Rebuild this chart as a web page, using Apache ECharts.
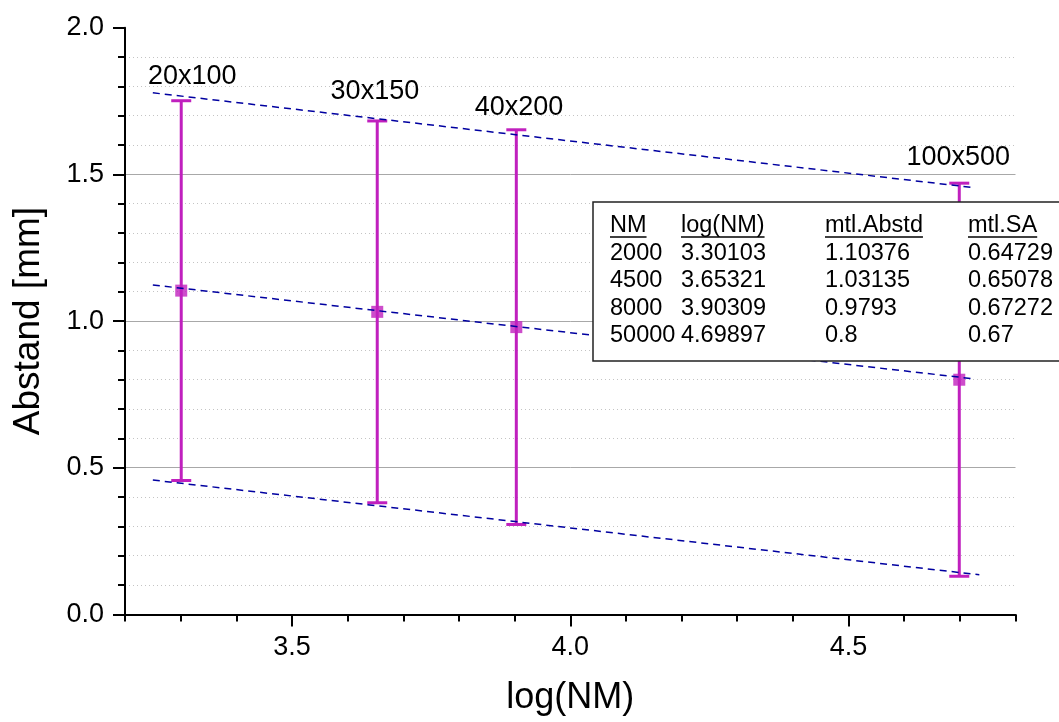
<!DOCTYPE html>
<html>
<head>
<meta charset="utf-8">
<style>
html,body{margin:0;padding:0;background:#fff;}
#chart{width:1059px;height:722px;}
</style>
<script src="https://cdn.jsdelivr.net/npm/echarts@6/dist/echarts.min.js"></script>
</head>
<body>
<div id="chart"></div>
<script>
// ---- data ----
const nmValues = [2000, 4500, 8000, 50000];
const logNM = [3.30103, 3.65321, 3.90309, 4.69897];
const meanAbstand = [1.10376, 1.03135, 0.9793, 0.8];
const meanSA = [0.64729, 0.65078, 0.67272, 0.67];
const tableHeaders = ['NM', 'log(NM)', 'mtl.Abstd', 'mtl.SA'];
const upperFit = [[3.25, 1.778], [4.725, 1.455]];
const middleFit = [[3.25, 1.123], [4.725, 0.803]];
const lowerFit = [[3.25, 0.458], [4.735, 0.135]];
const pointLabels = ['20x100', '30x150', '40x200', '100x500'];
const pointLabelPos = [[3.321, 1.832], [3.649, 1.781], [3.908, 1.727], [4.697, 1.558]];

// ---- styles ----
const FONT = '"Liberation Sans", Arial, sans-serif';
const MAG = '#C020BE';
const BLUE = '#0000A0';

const errData = logNM.map((x, i) => [x, meanAbstand[i] - meanSA[i], meanAbstand[i] + meanSA[i]]);
const meanData = logNM.map((x, i) => [x, meanAbstand[i]]);
const labelData = pointLabels.map((n, i) => ({ name: n, value: pointLabelPos[i] }));

const chart = echarts.init(document.getElementById('chart'), null, { renderer: 'canvas' });

// table graphic
const TFS = 23.5;
const measureCtx = document.createElement('canvas').getContext('2d');
measureCtx.font = TFS + 'px ' + FONT;
const colX = [610, 681, 825, 968];
const rowY = [226, 253.5, 281, 308.5, 336];
const tableRows = nmValues.map((nm, i) => [String(nm), String(logNM[i]), String(meanAbstand[i]), String(meanSA[i])]);
const tableChildren = [{
  type: 'rect', z: 100, shape: { x: 593, y: 202, width: 520, height: 159 },
  style: { fill: '#fff', stroke: '#222', lineWidth: 1.5 }
}];
tableHeaders.forEach((h, c) => {
  tableChildren.push({ type: 'text', z: 101, style: { text: h, x: colX[c], y: rowY[0], font: TFS + 'px ' + FONT, fill: '#000', align: 'left', verticalAlign: 'middle' } });
  const w = measureCtx.measureText(h).width;
  tableChildren.push({ type: 'line', z: 101, shape: { x1: colX[c], y1: 237, x2: colX[c] + w, y2: 237 }, style: { stroke: '#000', lineWidth: 1.5 } });
});
tableRows.forEach((row, r) => {
  row.forEach((t, c) => {
    tableChildren.push({ type: 'text', z: 101, style: { text: t, x: colX[c], y: rowY[r + 1], font: TFS + 'px ' + FONT, fill: '#000', align: 'left', verticalAlign: 'middle' } });
  });
});

const axisLineStyle = { color: '#000', width: 2 };

const option = {
  backgroundColor: '#fff',
  animation: false,
  grid: { left: 125, top: 27.7, right: 43.5, bottom: 107.6, containLabel: false, outerBoundsMode: 'none' },
  xAxis: [
    {
      type: 'value', min: 3.2, max: 4.8, splitNumber: 3, position: 'bottom',
      axisLine: { show: true, onZero: false, lineStyle: axisLineStyle },
      axisTick: { show: true, length: 12, lineStyle: { color: '#000', width: 2 } },
      axisLabel: {
        show: true, margin: 20, fontSize: 27, fontFamily: FONT, color: '#000',
        showMinLabel: false, showMaxLabel: false,
        formatter: v => v.toFixed(1)
      },
      splitLine: { show: false },
      name: 'log(NM)', nameLocation: 'middle', nameGap: 66,
      nameTextStyle: { fontSize: 36, fontFamily: FONT, color: '#000' }
    },
    {
      type: 'value', min: 3.2, max: 4.8, interval: 0.1, position: 'bottom', offset: 0,
      axisLine: { show: false, onZero: false },
      axisTick: { show: true, length: 7, lineStyle: { color: '#000', width: 2 } },
      axisLabel: { show: false },
      splitLine: { show: false }
    }
  ],
  yAxis: {
    type: 'value', min: 0, max: 2, interval: 0.5,
    axisLine: { show: true, onZero: false, lineStyle: axisLineStyle },
    axisTick: { show: true, length: 12, lineStyle: { color: '#000', width: 2 } },
    minorTick: { show: true, splitNumber: 5, length: 7, lineStyle: { color: '#000', width: 2 } },
    axisLabel: { margin: 21, fontSize: 27, fontFamily: FONT, color: '#000', formatter: v => v.toFixed(1) },
    splitLine: { show: true, showMinLine: false, showMaxLine: false, lineStyle: { color: '#A8A8A8', width: 1 } },
    minorSplitLine: { show: true, lineStyle: { color: '#C4C4C4', width: 1, type: [1, 3] } },
    name: 'Abstand [mm]', nameLocation: 'middle', nameGap: 78, nameRotate: 90,
    nameTextStyle: { fontSize: 37, fontFamily: FONT, color: '#000' }
  },
  series: [
    {
      type: 'custom', xAxisIndex: 0, z: 2,
      data: errData,
      encode: { x: 0, y: [1, 2] },
      renderItem: function (params, api) {
        const x = api.value(0), lo = api.value(1), hi = api.value(2);
        const pLo = api.coord([x, lo]);
        const pHi = api.coord([x, hi]);
        const hw = 10;
        const st = { stroke: MAG, lineWidth: 3 };
        return {
          type: 'group', children: [
            { type: 'line', shape: { x1: pLo[0], y1: pLo[1], x2: pHi[0], y2: pHi[1] }, style: st },
            { type: 'line', shape: { x1: pHi[0] - hw, y1: pHi[1], x2: pHi[0] + hw, y2: pHi[1] }, style: st },
            { type: 'line', shape: { x1: pLo[0] - hw, y1: pLo[1], x2: pLo[0] + hw, y2: pLo[1] }, style: st }
          ]
        };
      }
    },
    {
      type: 'scatter', xAxisIndex: 0, z: 3,
      data: meanData, symbol: 'rect', symbolSize: 12,
      itemStyle: { color: MAG }
    },
    {
      type: 'line', xAxisIndex: 0, z: 4, data: upperFit, symbol: 'none',
      lineStyle: { color: BLUE, width: 1.5, type: [7, 5] }
    },
    {
      type: 'line', xAxisIndex: 0, z: 4, data: middleFit, symbol: 'none',
      lineStyle: { color: BLUE, width: 1.5, type: [7, 5] }
    },
    {
      type: 'line', xAxisIndex: 0, z: 4, data: lowerFit, symbol: 'none',
      lineStyle: { color: BLUE, width: 1.5, type: [7, 5] }
    },
    {
      type: 'scatter', xAxisIndex: 0, z: 5, data: labelData,
      symbolSize: 1, itemStyle: { color: 'rgba(0,0,0,0)' },
      label: {
        show: true, position: 'inside', formatter: p => p.name,
        fontSize: 27, fontFamily: FONT, color: '#000', opacity: 1,
        textBorderWidth: 0
      }
    }
  ],
  graphic: [{ type: 'group', z: 100, children: tableChildren }]
};
chart.setOption(option);
</script>
</body>
</html>
